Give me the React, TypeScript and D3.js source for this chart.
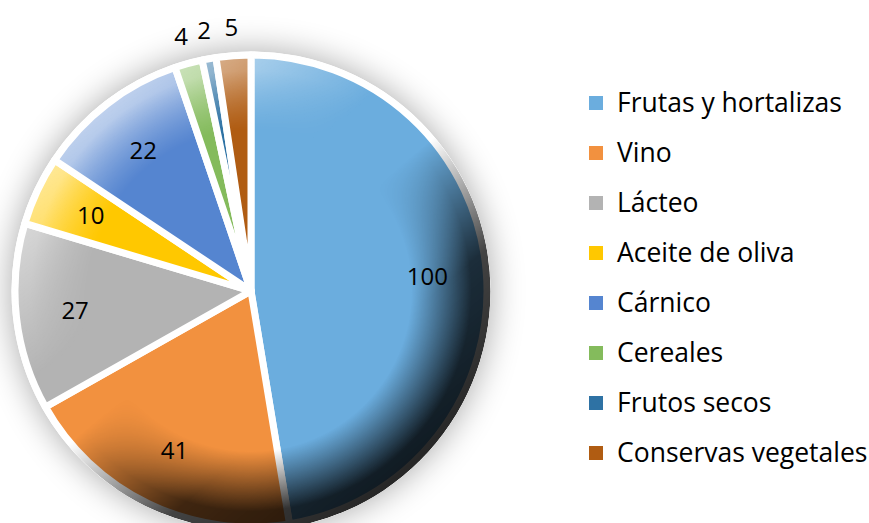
import * as d3 from "d3";

const categories = [
  "Frutas y hortalizas",
  "Vino",
  "Lácteo",
  "Aceite de oliva",
  "Cárnico",
  "Cereales",
  "Frutos secos",
  "Conservas vegetales",
];
const values = [100, 41, 27, 10, 22, 4, 2, 5];
const colors = [
  "#6badde",
  "#f2913f",
  "#b3b3b3",
  "#ffc800",
  "#5585d0",
  "#84bb5c",
  "#2e72a4",
  "#b05c12",
];

export default function App() {
  const width = 869;
  const height = 523;
  const cx = 251;
  const cy = 291;
  const radius = 236;
  const gap = 7;
  const rimRadius = radius + gap / 2;

  const pie = d3
    .pie<number>()
    .sort(null)
    .value((d) => d);
  const slices = pie(values);

  const arc = d3.arc<d3.PieArcDatum<number>>().innerRadius(0).outerRadius(radius);
  const insideLabelArc = d3
    .arc<d3.PieArcDatum<number>>()
    .innerRadius(radius * 0.75)
    .outerRadius(radius * 0.75);
  const outsideLabelArc = d3
    .arc<d3.PieArcDatum<number>>()
    .innerRadius(radius * 1.12)
    .outerRadius(radius * 1.12);

  // light comes from upper left, dark rim towards lower right
  const lx = Math.sin((140 * Math.PI) / 180) * rimRadius;
  const ly = -Math.cos((140 * Math.PI) / 180) * rimRadius;

  const legendY = d3
    .scalePoint<string>()
    .domain(categories)
    .range([103, 453]);

  const font = "'Open Sans', 'Noto Sans', sans-serif";

  return (
    <svg width={width} height={height} style={{ display: "block" }}>
      <style>{`body{margin:0}`}</style>
      <defs>
        <filter id="pieShadow" x="-30%" y="-30%" width="160%" height="160%">
          <feGaussianBlur stdDeviation="17" />
        </filter>
        <linearGradient
          id="lighting"
          gradientUnits="userSpaceOnUse"
          x1={cx - lx}
          y1={cy - ly}
          x2={cx + lx}
          y2={cy + ly}
        >
          <stop offset="0%" stopColor="#ffffff" stopOpacity={0.65} />
          <stop offset="35%" stopColor="#ffffff" stopOpacity={0} />
          <stop offset="50%" stopColor="#000000" stopOpacity={0} />
          <stop offset="75%" stopColor="#000000" stopOpacity={0.74} />
          <stop offset="100%" stopColor="#000000" stopOpacity={0.85} />
        </linearGradient>
        <radialGradient
          id="rimFade"
          gradientUnits="userSpaceOnUse"
          cx={cx}
          cy={cy}
          r={rimRadius}
        >
          <stop offset="0%" stopColor="#000" />
          <stop offset="67%" stopColor="#000" />
          <stop offset="92%" stopColor="#fff" />
          <stop offset="100%" stopColor="#fff" />
        </radialGradient>
        <mask id="rimMask" maskUnits="userSpaceOnUse" x={0} y={0} width={width} height={height}>
          <circle cx={cx} cy={cy} r={rimRadius} fill="url(#rimFade)" />
        </mask>
      </defs>

      <circle
        cx={cx}
        cy={cy}
        r={rimRadius}
        fill="#000"
        opacity={0.34}
        filter="url(#pieShadow)"
      />
      <circle cx={cx} cy={cy} r={rimRadius} fill="#fff" />

      <g transform={`translate(${cx},${cy})`}>
        {slices.map((s, i) => (
          <path
            key={categories[i]}
            d={arc(s) ?? ""}
            fill={colors[i]}
            stroke="#fff"
            strokeWidth={gap}
            strokeLinejoin="round"
          />
        ))}
      </g>

      <circle
        cx={cx}
        cy={cy}
        r={rimRadius}
        fill="url(#lighting)"
        mask="url(#rimMask)"
      />

      <g transform={`translate(${cx},${cy})`} fontFamily={font} fontSize={24} fill="#000">
        {slices.map((s, i) => {
          const small = s.endAngle - s.startAngle < 0.2;
          const [x, y] = small ? outsideLabelArc.centroid(s) : insideLabelArc.centroid(s);
          return (
            <text key={`lbl-${categories[i]}`} x={x} y={y} dy="0.35em" textAnchor="middle">
              {values[i]}
            </text>
          );
        })}
      </g>

      <g fontFamily={font} fontSize={26.5} fill="#000">
        {categories.map((c, i) => (
          <g key={`leg-${c}`} transform={`translate(589,${legendY(c)})`}>
            <rect x={0} y={-7} width={14} height={14} fill={colors[i]} />
            <text x={28} y={0} dy="0.35em">
              {c}
            </text>
          </g>
        ))}
      </g>
    </svg>
  );
}
